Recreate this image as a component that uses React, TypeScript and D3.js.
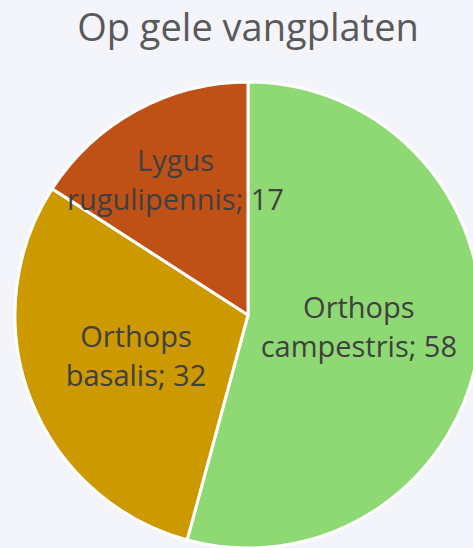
import React, { useEffect, useRef } from 'react';
import * as d3 from 'd3';

const species = ['Orthops campestris', 'Orthops basalis', 'Lygus rugulipennis'];
const counts = [58, 32, 17];
const labelLines = [
  ['Orthops', 'campestris; 58'],
  ['Orthops', 'basalis; 32'],
  ['Lygus', 'rugulipennis; 17'],
];
const colors = ['#8fd974', '#cc9900', '#c05116'];

const W = 473;
const H = 548;

export default function App() {
  const svgRef = useRef<SVGSVGElement>(null);

  useEffect(() => {
    document.body.style.margin = '0';
    const svg = d3.select(svgRef.current);
    svg.selectAll('*').remove();
    svg.attr('width', W).attr('height', H);

    svg.append('rect').attr('width', W).attr('height', H).attr('fill', '#f4f5fa');

    svg.append('text')
      .attr('x', 248)
      .attr('y', 41)
      .attr('text-anchor', 'middle')
      .style('font-family', 'Open Sans, sans-serif')
      .style('font-size', '38px')
      .style('fill', '#595959')
      .text('Op gele vangplaten');

    const radius = 233;
    const g = svg.append('g').attr('transform', `translate(248,315)`);

    const data = species.map((s, i) => ({ name: s, value: counts[i], lines: labelLines[i], color: colors[i] }));
    const pie = d3.pie<any>().value(d => d.value).sort(null);
    const arc = d3.arc<any>().innerRadius(0).outerRadius(radius);

    const arcs = pie(data);

    g.selectAll('path')
      .data(arcs)
      .enter()
      .append('path')
      .attr('d', arc)
      .attr('fill', d => d.data.color)
      .attr('stroke', 'white')
      .style('stroke-width', '3px');

    // label distance as fraction of radius (Excel best fit)
    const labelFrac = [0.48, 0.515, 0.65];
    const lineH = 39;

    arcs.forEach((a, i) => {
      const mid = (a.startAngle + a.endAngle) / 2;
      const r = radius * labelFrac[i];
      const x = Math.sin(mid) * r;
      const y = -Math.cos(mid) * r;
      const t = g.append('text')
        .attr('text-anchor', 'middle')
        .style('font-family', 'Open Sans, sans-serif')
        .style('font-size', '29px')
        .style('fill', '#404040');
      a.data.lines.forEach((line: string, j: number) => {
        t.append('tspan')
          .attr('x', x)
          .attr('y', y + (j - (a.data.lines.length - 1) / 2) * lineH + 8)
          .text(line);
      });
    });
  }, []);

  return <svg ref={svgRef} style={{ display: 'block' }}></svg>;
}
